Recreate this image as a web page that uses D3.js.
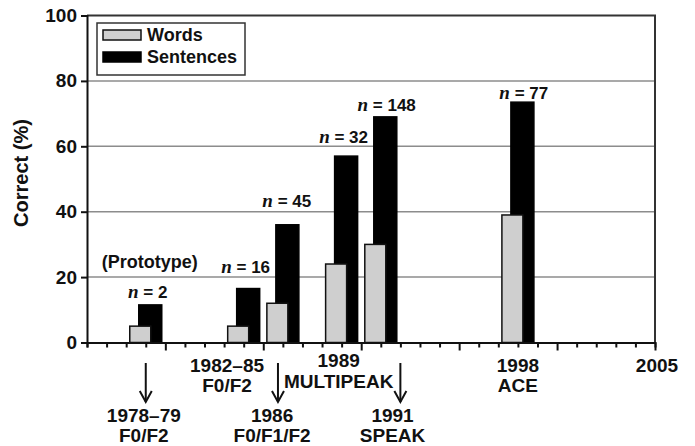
<!DOCTYPE html>
<html>
<head>
<meta charset="utf-8">
<script src="https://cdn.jsdelivr.net/npm/d3@7"></script>
<style>
  body { margin: 0; background: #fff; }
  text { font-family: "Liberation Sans", Arial, sans-serif; font-weight: bold; fill: #111; }
</style>
</head>
<body>
<svg id="chart" width="695" height="446"></svg>
<script>
// data
var years = [1979, 1984, 1986, 1989, 1991, 1998];
var words = [5, 5, 12, 24, 30, 39];
var sentences = [11.5, 16.5, 36, 57, 69, 73.5];

// n = ... labels (placed in year / percent units)
var nText = ["2", "16", "45", "32", "148", "77"];
var nYear = [1979.1, 1984.1, 1986.2, 1989.1, 1991.3, 1998.3];
var nValue = [13.6, 21.2, 41.4, 60.9, 70.8, 74.5];

// processor labels under the axis
var procYear = [1978.9, 1983.15, 1985.45, 1988.85, 1991.6, 1998, 2005.1];
var procLine1 = ["1978\u201379", "1982\u201385", "1986", "1989", "1991", "1998", "2005"];
var procLine2 = ["F0/F2", "F0/F2", "F0/F1/F2", "MULTIPEAK", "SPEAK", "ACE", ""];
var procLow = [true, false, true, false, true, false, false];

var arrowYear = [1979, 1985.75, 1992];

var yTicks = [0, 20, 40, 60, 80, 100];

var margins = {left: 87, right: 655, top: 15.5, bottom: 342.5};

var svg = d3.select("#chart");

var xScale = d3.scaleLinear()
                .domain([1976, 2005])
                .range([margins.left, margins.right]);

var yScale = d3.scaleLinear()
                .domain([0, 100])
                .range([margins.bottom, margins.top]);

// gridlines
svg.append("g")
    .selectAll("line")
    .data(yTicks.filter(function(d){ return d > 0 && d < 100; }))
    .enter()
    .append("line")
        .attr("x1", margins.left)
        .attr("x2", margins.right)
        .attr("y1", function(d){ return yScale(d); })
        .attr("y2", function(d){ return yScale(d); })
        .style("stroke", "#8c8c8c")
        .style("stroke-width", 1.5);

// top + right frame
svg.append("path")
    .attr("d", "M" + margins.left + "," + yScale(100) + "H" + margins.right + "V" + yScale(0))
    .style("fill", "none")
    .style("stroke", "#333")
    .style("stroke-width", 2);

// bars: sentences first, words drawn on top
var groups = svg.append("g")
    .selectAll("g")
    .data(years)
    .enter()
    .append("g");

groups.append("rect")
    .attr("x", function(d){ return xScale(d) - 7; })
    .attr("width", 23)
    .attr("y", function(d, i){ return yScale(sentences[i]); })
    .attr("height", function(d, i){ return yScale(0) - yScale(sentences[i]); })
    .style("fill", "#000")
    .style("stroke", "#000")
    .style("stroke-width", 1.5);

groups.append("rect")
    .attr("x", function(d){ return xScale(d) - 16; })
    .attr("width", 21)
    .attr("y", function(d, i){ return yScale(words[i]); })
    .attr("height", function(d, i){ return yScale(0) - yScale(words[i]); })
    .style("fill", "#cfcfcf")
    .style("stroke", "#111")
    .style("stroke-width", 1.5);

// y axis
var yAxis = d3.axisLeft(yScale)
    .tickValues(yTicks)
    .tickSize(6)
    .tickPadding(4)
    .tickFormat(d3.format("d"));

svg.append("g")
    .attr("transform", "translate(" + margins.left + ",0)")
    .call(yAxis)
    .call(function(g){
        g.select(".domain").style("stroke", "#111").style("stroke-width", 2);
        g.selectAll(".tick line").style("stroke", "#111").style("stroke-width", 2);
        g.selectAll(".tick text")
            .style("font-family", "Liberation Sans, Arial, sans-serif")
            .style("font-weight", "bold")
            .style("font-size", "19px")
            .style("fill", "#111");
    });

// x axis, a tick every year, longer every 5
var xAxis = d3.axisBottom(xScale)
    .tickValues(d3.range(1976, 2006))
    .tickSize(5)
    .tickFormat("");

svg.append("g")
    .attr("transform", "translate(0," + margins.bottom + ")")
    .call(xAxis)
    .call(function(g){
        g.select(".domain").style("stroke", "#111").style("stroke-width", 2);
        g.selectAll(".tick line")
            .style("stroke", "#111")
            .style("stroke-width", 2)
            .attr("y2", function(d){ return d % 5 == 0 ? 8 : 5; });
    });

// y title
svg.append("text")
    .attr("transform", "translate(28,173) rotate(-90)")
    .attr("text-anchor", "middle")
    .style("font-size", "20px")
    .text("Correct (%)");

// n labels
var nLab = svg.append("g")
    .selectAll("text")
    .data(nText)
    .enter()
    .append("text")
        .attr("x", function(d, i){ return xScale(nYear[i]); })
        .attr("y", function(d, i){ return yScale(nValue[i]); })
        .attr("text-anchor", "middle")
        .style("font-size", "17px");

nLab.append("tspan")
    .style("font-family", "Liberation Serif, Times New Roman, serif")
    .style("font-style", "italic")
    .style("font-size", "19px")
    .text("n");

nLab.append("tspan")
    .text(function(d){ return " = " + d; });

svg.append("text")
    .attr("x", xScale(1979.2))
    .attr("y", yScale(22.7))
    .attr("text-anchor", "middle")
    .style("font-size", "18px")
    .text("(Prototype)");

// labels under the axis
var procLabels = svg.append("g")
    .selectAll("text")
    .data(procLine1)
    .enter()
    .append("text")
        .attr("text-anchor", "middle")
        .style("font-size", "19px")
        .attr("transform", function(d, i){
            var y = procLow[i] ? 421.5 : 371.5;
            if (d == "1989") { y = 367; }
            return "translate(" + xScale(procYear[i]) + "," + y + ")";
        });

procLabels.append("tspan")
    .attr("x", 0)
    .attr("y", 0)
    .text(function(d){ return d; });

procLabels.append("tspan")
    .attr("x", 0)
    .attr("y", function(d){ return d == "1989" ? 21 : 20; })
    .text(function(d, i){ return procLine2[i]; });

// arrows
var arrows = svg.append("g")
    .selectAll("g")
    .data(arrowYear)
    .enter()
    .append("g")
        .attr("transform", function(d){ return "translate(" + xScale(d) + ",0)"; })
        .style("stroke", "#111")
        .style("stroke-width", 2)
        .style("fill", "none");

arrows.append("line")
    .attr("x1", 0).attr("x2", 0)
    .attr("y1", 363).attr("y2", 402);

arrows.append("path")
    .attr("d", "M-6,391L0,402L6,391");

// legend
var legend = svg.append("g")
    .attr("transform", "translate(97,23)");

legend.append("rect")
    .attr("width", 148)
    .attr("height", 52)
    .style("fill", "#fff")
    .style("stroke", "#333")
    .style("stroke-width", 1.5);

legend.append("rect")
    .attr("x", 6).attr("y", 7)
    .attr("width", 38).attr("height", 10)
    .style("fill", "#cfcfcf")
    .style("stroke", "#111")
    .style("stroke-width", 1.5);

legend.append("rect")
    .attr("x", 6).attr("y", 29)
    .attr("width", 38).attr("height", 10)
    .style("fill", "#000")
    .style("stroke", "#000")
    .style("stroke-width", 1.5);

legend.append("text")
    .attr("x", 50)
    .attr("y", 18)
    .style("font-size", "18px")
    .text("Words");

legend.append("text")
    .attr("x", 50)
    .attr("y", 40)
    .style("font-size", "18px")
    .text("Sentences");
</script>
</body>
</html>
